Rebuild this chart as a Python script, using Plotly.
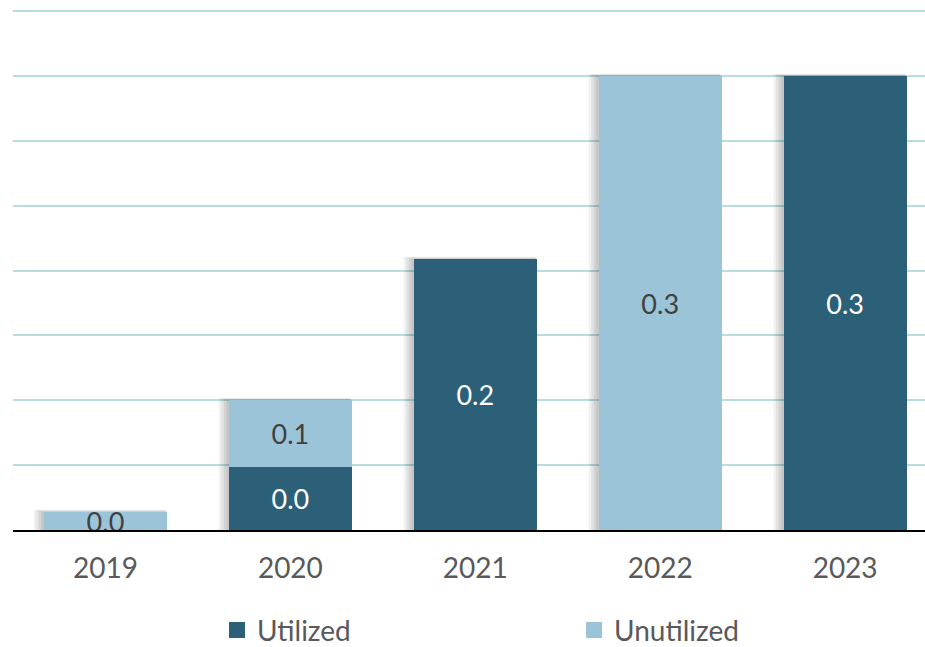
import plotly.graph_objects as go

years = ["2019", "2020", "2021", "2022", "2023"]
utilized = [None, 0.0485, 0.2088, None, 0.3498]
unutilized = [0.0138, 0.0515, None, 0.3498, None]

dark = "#2C5F78"
light = "#9BC4D8"
font_family = "Lato, 'Open Sans', sans-serif"
bar_w = 0.665

fig = go.Figure()
fig.add_trace(go.Bar(
    x=years, y=utilized, name="Utilized", marker=dict(color=dark, line=dict(width=0)),
    texttemplate="%{y:.1f}", textposition="inside", insidetextanchor="middle",
    constraintext="none", textfont=dict(color="white", size=27, family=font_family),
    showlegend=False, width=bar_w,
))
fig.add_trace(go.Bar(
    x=years, y=unutilized, name="Unutilized", marker=dict(color=light, line=dict(width=0)),
    texttemplate="%{y:.1f}", textposition="inside", insidetextanchor="middle",
    constraintext="none", textfont=dict(color="#404040", size=27, family=font_family),
    showlegend=False, width=bar_w,
))
# legend entries
for nm, col in [("Utilized", dark), ("Unutilized", light)]:
    fig.add_trace(go.Scatter(x=[None], y=[None], mode="markers", name=nm,
                             marker=dict(symbol="square", size=16, color=col)))

# soft drop shadows behind bars (derived from bar totals)
px_x = 1 / 184.9          # data units per pixel, x
px_y = 0.05 / 64.9        # data units per pixel, y
for i, (u, n) in enumerate(zip(utilized, unutilized)):
    total = (u or 0) + (n or 0)
    for k in range(1, 5):
        fig.add_shape(type="rect", xref="x", yref="y", layer="between",
                      x0=i - bar_w / 2 - 2.5 * k * px_x, x1=i + bar_w / 2 - 1 * px_x,
                      y0=0, y1=total + 0.6 * k * px_y,
                      fillcolor="rgba(0,0,0,0.06)", line=dict(width=0))

fig.update_layout(
    barmode="stack",
    width=925, height=647,
    margin=dict(l=13, r=0, t=10, b=117),
    plot_bgcolor="white", paper_bgcolor="white",
    font=dict(family=font_family, size=28, color="#595959"),
    legend=dict(orientation="h", xref="container", yref="container",
                x=0.2346, y=0.026, xanchor="left", yanchor="middle",
                traceorder="normal",
                entrywidth=312, entrywidthmode="pixels",
                font=dict(size=28, color="#595959")),
)
fig.update_xaxes(range=[-0.5, 4.432], showline=True, linecolor="black", linewidth=1.5,
                 ticks="", ticklabelstandoff=13, showgrid=False)
fig.update_yaxes(range=[0, 0.4008], tickvals=[0.05 * i for i in range(1, 9)],
                 showticklabels=False, showgrid=True,
                 gridcolor="#B7DDE0", gridwidth=2, zeroline=False, showline=False)

fig.write_html("out.html")
